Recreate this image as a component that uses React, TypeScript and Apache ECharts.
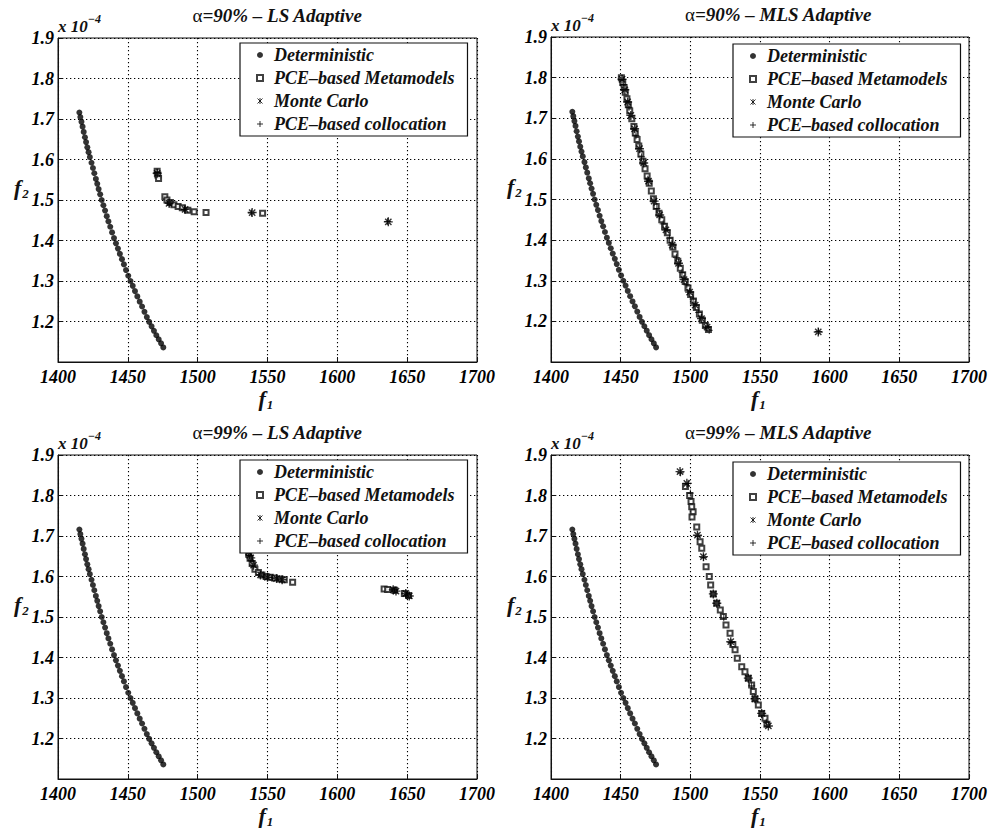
import React, { useEffect, useRef } from 'react';
import * as echarts from 'echarts';

// f1 values, f2 values in units of 1e-4
const SERIES_NAMES = ['Deterministic', 'PCE–based Metamodels', 'Monte Carlo', 'PCE–based collocation'];
const PANEL_TITLES = ['=90% – LS Adaptive', '=90% – MLS Adaptive', '=99% – LS Adaptive', '=99% – MLS Adaptive'];
const X_MIN = 1400, X_MAX = 1700, X_STEP = 50;
const Y_MIN = 1.1, Y_MAX = 1.9, Y_STEP = 0.1;
const X_TICKS = [1400, 1450, 1500, 1550, 1600, 1650, 1700];
const Y_TICKS = [1.2, 1.3, 1.4, 1.5, 1.6, 1.7, 1.8, 1.9];

const deterministic: number[][] = [
  [1415.3, 1.716], [1416.0, 1.705], [1416.8, 1.693], [1417.6, 1.681], [1418.4, 1.668], [1419.3, 1.655],
  [1420.1, 1.643], [1421.0, 1.630], [1421.9, 1.618], [1422.8, 1.606], [1424.0, 1.592], [1425.0, 1.579],
  [1426.0, 1.566], [1427.1, 1.552], [1428.1, 1.540], [1429.1, 1.527], [1430.2, 1.514], [1431.3, 1.500],
  [1432.5, 1.487], [1433.7, 1.474], [1434.9, 1.460], [1436.1, 1.447], [1437.4, 1.434], [1438.7, 1.420],
  [1440.1, 1.406], [1441.5, 1.393], [1442.9, 1.380], [1444.3, 1.367], [1445.8, 1.354], [1447.2, 1.341],
  [1448.7, 1.327], [1450.3, 1.313], [1451.9, 1.300], [1453.5, 1.288], [1455.1, 1.275], [1456.8, 1.262],
  [1458.5, 1.249], [1460.2, 1.237], [1461.9, 1.224], [1463.6, 1.211], [1465.3, 1.199], [1467.0, 1.188],
  [1468.7, 1.177], [1470.4, 1.166], [1472.1, 1.156], [1473.8, 1.146], [1475.4, 1.136],
];

// alpha = 90%, LS adaptive
const ls90Meta: number[][] = [
  [1471, 1.571], [1471.5, 1.562], [1472, 1.553], [1476.5, 1.508], [1478, 1.500], [1480.5, 1.494],
  [1483, 1.488], [1486, 1.484], [1489, 1.481], [1493, 1.475], [1497.5, 1.471], [1506, 1.469], [1546.5, 1.467],
];
const ls90MC: number[][] = [[1471, 1.566], [1479.5, 1.492], [1491, 1.477], [1539, 1.469], [1636.5, 1.446]];
const ls90Coll: number[][] = [[1471, 1.568], [1480, 1.490], [1490.5, 1.476], [1538.5, 1.468], [1636, 1.447]];

// alpha = 90%, MLS adaptive
const mls90Meta: number[][] = [
  [1450.5, 1.800], [1451.5, 1.788], [1452.5, 1.776], [1453.3, 1.764], [1454.5, 1.748], [1455.5, 1.733],
  [1456.5, 1.718], [1458.0, 1.699], [1459.5, 1.680], [1460.5, 1.664], [1461.8, 1.648], [1463.0, 1.632],
  [1464.5, 1.612], [1466.0, 1.594], [1467.5, 1.576], [1469.0, 1.558], [1470.5, 1.540], [1472.0, 1.521],
  [1473.5, 1.502], [1475.5, 1.483], [1477.5, 1.466], [1479.5, 1.450], [1481.5, 1.434], [1483.5, 1.418],
  [1485.5, 1.400], [1487.5, 1.383], [1489.0, 1.366], [1491.0, 1.348], [1492.8, 1.331], [1494.5, 1.315],
  [1496.3, 1.298], [1498.3, 1.282], [1500.2, 1.266], [1502.2, 1.250], [1504.3, 1.234], [1506.5, 1.218],
  [1508.6, 1.203], [1510.8, 1.190], [1513.0, 1.180],
];
const mls90MC: number[][] = [
  [1451, 1.796], [1453, 1.770], [1455, 1.740], [1457.3, 1.707], [1460, 1.674], [1463.5, 1.625],
  [1466.5, 1.590], [1470, 1.545], [1474, 1.496], [1478, 1.462], [1482.5, 1.425], [1487, 1.388],
  [1491.5, 1.343], [1495.5, 1.303], [1499.5, 1.272], [1503.5, 1.240], [1508, 1.207], [1512, 1.186],
  [1591.8, 1.174],
];
const mls90Coll: number[][] = [
  [1452, 1.783], [1456, 1.727], [1461, 1.657], [1465, 1.605], [1469.5, 1.550], [1476, 1.478],
  [1480.5, 1.440], [1485, 1.405], [1490, 1.357], [1494, 1.320], [1497.5, 1.290], [1502, 1.255],
  [1506, 1.222], [1513.5, 1.178], [1592, 1.175],
];

// alpha = 99%, LS adaptive
const ls99Meta: number[][] = [
  [1536.5, 1.655], [1537.5, 1.645], [1539, 1.632], [1541, 1.618], [1543.5, 1.610], [1546, 1.604],
  [1549, 1.600], [1552, 1.598], [1555, 1.596], [1559, 1.594], [1562, 1.592], [1568, 1.586],
  [1633.5, 1.569], [1636, 1.568], [1641, 1.566], [1648, 1.558], [1651, 1.553],
];
const ls99MC: number[][] = [
  [1536.5, 1.660], [1538, 1.646], [1540, 1.628], [1545, 1.604], [1550, 1.598], [1556.5, 1.595],
  [1560.5, 1.592], [1640, 1.567], [1642, 1.564], [1649, 1.558], [1651.5, 1.552],
];
const ls99Coll: number[][] = [
  [1537, 1.652], [1539, 1.638], [1547.5, 1.601], [1553.5, 1.597], [1641, 1.567], [1650, 1.555],
];

// alpha = 99%, MLS adaptive
const mls99Meta: number[][] = [
  [1496.5, 1.822], [1499.5, 1.800], [1500.5, 1.785], [1502, 1.760], [1501, 1.772], [1501.2, 1.747],
  [1504.6, 1.722], [1507, 1.686], [1508.2, 1.670], [1511.3, 1.624], [1513.6, 1.600], [1514.6, 1.579],
  [1516.5, 1.557], [1518.9, 1.534], [1521.5, 1.517], [1523.7, 1.501], [1525.6, 1.480], [1528.5, 1.460],
  [1530.5, 1.432], [1532.1, 1.419], [1533.7, 1.398], [1536.9, 1.377], [1539.2, 1.365], [1541.6, 1.349],
  [1544, 1.332], [1545.2, 1.316], [1546.4, 1.298], [1548.8, 1.283], [1551.2, 1.262], [1553.6, 1.250],
  [1555, 1.235],
];
const mls99MC: number[][] = [
  [1492.6, 1.859], [1497.5, 1.830], [1505.1, 1.702], [1509.4, 1.649], [1516.5, 1.557], [1519, 1.534],
  [1529, 1.439], [1541.6, 1.349], [1546.4, 1.298], [1551.2, 1.262], [1556, 1.231],
];
const mls99Coll: number[][] = [
  [1493, 1.856], [1498.5, 1.830], [1500, 1.806], [1505.5, 1.700], [1509.5, 1.647], [1524, 1.498],
  [1529.2, 1.437], [1544, 1.330], [1554.5, 1.240],
];

const PANEL_DATA = [
  [deterministic, ls90Meta, ls90MC, ls90Coll],
  [deterministic, mls90Meta, mls90MC, mls90Coll],
  [deterministic, ls99Meta, ls99MC, ls99Coll],
  [deterministic, mls99Meta, mls99MC, mls99Coll],
];

const FONT = 'Liberation Serif';
const INK = '#111';
const GRIDS = [
  { left: 58, top: 38, width: 419, height: 324 },
  { left: 551, top: 37, width: 418, height: 325 },
  { left: 58, top: 455, width: 419, height: 324 },
  { left: 551, top: 455, width: 418, height: 324 },
];
const LEGEND_POS = [
  { left: 240, top: 43 },
  { left: 733, top: 44 },
  { left: 240, top: 460 },
  { left: 733, top: 462 },
];

const ASTERISK = 'path://M0,-1L0,1M-1,0L1,0M-0.7,-0.7L0.7,0.7M-0.7,0.7L0.7,-0.7';
const ASTERISK_SMALL = 'path://M-1,-1L1,1M-1,1L1,-1M0,-1.2L0,1.2';
const PLUS = 'path://M0,-1L0,1M-1,0L1,0';
const TICK_FONT = `italic bold 18px "${FONT}"`;

export default function App() {
  const ref = useRef<HTMLDivElement>(null);
  useEffect(() => {
    if (!ref.current) return;
    const chart = echarts.init(ref.current, undefined, { renderer: 'svg' });

    const series: any[] = [];
    PANEL_DATA.forEach((sets, p) => {
      series.push({
        name: SERIES_NAMES[0], type: 'scatter', xAxisIndex: p, yAxisIndex: p, data: sets[0],
        symbol: 'circle', symbolSize: 6, itemStyle: { color: '#000' },
      });
      series.push({
        name: SERIES_NAMES[1], type: 'scatter', xAxisIndex: p, yAxisIndex: p, data: sets[1],
        symbol: 'emptyRect', symbolSize: 5, itemStyle: { color: '#111', borderWidth: 1 },
      });
      series.push({
        name: SERIES_NAMES[2], type: 'scatter', xAxisIndex: p, yAxisIndex: p, data: sets[2],
        symbol: ASTERISK, symbolSize: 9,
        itemStyle: { color: '#000', borderColor: '#000', borderWidth: 1.4 },
      });
      series.push({
        name: SERIES_NAMES[3], type: 'scatter', xAxisIndex: p, yAxisIndex: p, data: sets[3],
        symbol: PLUS, symbolSize: 7,
        itemStyle: { color: '#000', borderColor: '#000', borderWidth: 1 },
      });
    });

    const gridLine = { show: true, lineStyle: { color: '#000', width: 1.1, type: [1.3, 2.7] } };

    const xAxis = GRIDS.map((_, p) => ({
      type: 'value', gridIndex: p, min: X_MIN, max: X_MAX, interval: X_STEP,
      axisLine: { show: true, lineStyle: { color: INK, width: 1 } },
      axisTick: { show: true, inside: true, length: 5, lineStyle: { color: INK } },
      axisLabel: { show: false },
      splitLine: gridLine,
    }));
    const yAxis = GRIDS.map((_, p) => ({
      type: 'value', gridIndex: p, min: Y_MIN, max: Y_MAX, interval: Y_STEP,
      axisLine: { show: true, lineStyle: { color: INK, width: 1 } },
      axisTick: { show: true, inside: true, length: 5, lineStyle: { color: INK } },
      axisLabel: { show: false },
      splitLine: gridLine,
    }));

    const legendData = [
      { name: SERIES_NAMES[0], icon: 'circle', itemStyle: { color: '#000' } },
      { name: SERIES_NAMES[1], icon: 'emptyRect' },
      { name: SERIES_NAMES[2], icon: ASTERISK_SMALL, itemStyle: { color: '#000', borderColor: '#000', borderWidth: 1 } },
      { name: SERIES_NAMES[3], icon: PLUS, itemStyle: { color: '#000', borderColor: '#000', borderWidth: 1 } },
    ];

    const legend = LEGEND_POS.map((pos) => ({
      ...pos,
      orient: 'vertical',
      data: legendData,
      backgroundColor: '#fff',
      borderColor: INK,
      borderWidth: 1.2,
      padding: [3, 13, 3, 16],
      itemGap: 5,
      itemWidth: 6,
      itemHeight: 6,
      selectedMode: false,
      textStyle: { fontFamily: FONT, fontWeight: 'bold', fontStyle: 'italic', fontSize: 18, color: INK, padding: [0, 0, 0, 6] },
    }));

    const graphic: any[] = [];
    GRIDS.forEach((g, p) => {
      const cx = g.left + g.width / 2;
      graphic.push({
        type: 'text', left: cx - 75, top: g.top - 32,
        style: {
          text: '{a|α}{t|' + PANEL_TITLES[p] + '}',
          rich: {
            a: { fontFamily: FONT, fontSize: 19, fill: INK },
            t: { fontFamily: FONT, fontSize: 19, fontWeight: 'bold', fontStyle: 'italic', fill: INK },
          },
        },
      });
      graphic.push({
        type: 'text', left: g.left, top: g.top - 25,
        style: {
          text: '{b|x 10}{s|−4}',
          rich: {
            b: { fontFamily: FONT, fontSize: 17, fontWeight: 'bold', fontStyle: 'italic', fill: INK, verticalAlign: 'bottom', lineHeight: 22 },
            s: { fontFamily: FONT, fontSize: 12, fontWeight: 'bold', fontStyle: 'italic', fill: INK, verticalAlign: 'top', lineHeight: 12 },
          },
        },
      });
      graphic.push({
        type: 'text', left: cx - 9, top: g.top + g.height + 25,
        style: {
          text: '{f|f}{s|1}',
          rich: {
            f: { fontFamily: FONT, fontSize: 22, fontWeight: 'bold', fontStyle: 'italic', fill: INK, verticalAlign: 'top', lineHeight: 24 },
            s: { fontFamily: FONT, fontSize: 13, fontWeight: 'bold', fontStyle: 'italic', fill: INK, verticalAlign: 'bottom', lineHeight: 13, padding: [0, 0, 0, 1] },
          },
        },
      });
      graphic.push({
        type: 'text', left: g.left - 44, top: g.top + 138,
        style: {
          text: '{f|f}{s|2}',
          rich: {
            f: { fontFamily: FONT, fontSize: 22, fontWeight: 'bold', fontStyle: 'italic', fill: INK, verticalAlign: 'top', lineHeight: 24 },
            s: { fontFamily: FONT, fontSize: 13, fontWeight: 'bold', fontStyle: 'italic', fill: INK, verticalAlign: 'bottom', lineHeight: 13, padding: [0, 0, 0, 1] },
          },
        },
      });
    });

    chart.setOption({
      animation: false,
      backgroundColor: '#fff',
      grid: GRIDS.map((g) => ({ ...g, show: true, borderColor: INK, borderWidth: 1, backgroundColor: 'transparent' })),
      xAxis,
      yAxis,
      legend,
      series,
    });

    // tick labels placed through the axes' own scales
    GRIDS.forEach((_, p) => {
      X_TICKS.forEach((v) => {
        const pt = chart.convertToPixel({ gridIndex: p } as any, [v, Y_MIN]) as number[];
        graphic.push({
          type: 'text', x: pt[0], y: pt[1] + 6,
          style: { text: String(v), font: TICK_FONT, fill: '#000', align: 'center', verticalAlign: 'top', textAlign: 'center', textVerticalAlign: 'top' },
        });
      });
      Y_TICKS.forEach((v) => {
        const pt = chart.convertToPixel({ gridIndex: p } as any, [X_MIN, v]) as number[];
        graphic.push({
          type: 'text', x: pt[0] - 4, y: pt[1],
          style: { text: v.toFixed(1), font: TICK_FONT, fill: '#000', align: 'right', verticalAlign: 'middle', textAlign: 'right', textVerticalAlign: 'middle' },
        });
      });
    });

    chart.setOption({ graphic });
    return () => chart.dispose();
  }, []);
  return <div ref={ref} style={{ position: 'fixed', left: 0, top: 0, width: 1003, height: 831 }} />;
}
